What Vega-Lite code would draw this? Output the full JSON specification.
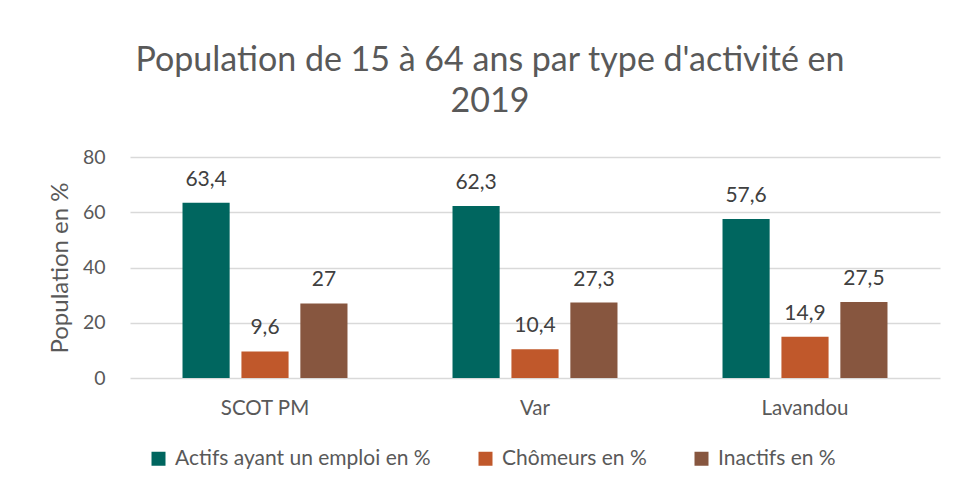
{
  "$schema": "https://vega.github.io/schema/vega-lite/v6.json",
  "width": 810,
  "height": 221,
  "autosize": {"type": "none"},
  "padding": {"left": 130, "top": 157, "right": 17, "bottom": 115},
  "background": "white",
  "config": {
    "font": "Lato",
    "view": {"stroke": null},
    "locale": {"number": {"decimal": ",", "thousands": " ", "grouping": [3], "currency": ["", " €"]}}
  },
  "title": {
    "text": ["Population de 15 à 64 ans par type d'activité en", "2019"],
    "fontSize": 34,
    "fontWeight": "normal",
    "color": "#595959",
    "anchor": "middle",
    "dx": -45,
    "offset": 28,
    "lineHeight": 41
  },
  "data": {
    "values": [
      {"zone": "SCOT PM", "type": "Actifs ayant un emploi en %", "value": 63.4},
      {"zone": "SCOT PM", "type": "Chômeurs en %", "value": 9.6},
      {"zone": "SCOT PM", "type": "Inactifs en %", "value": 27},
      {"zone": "Var", "type": "Actifs ayant un emploi en %", "value": 62.3},
      {"zone": "Var", "type": "Chômeurs en %", "value": 10.4},
      {"zone": "Var", "type": "Inactifs en %", "value": 27.3},
      {"zone": "Lavandou", "type": "Actifs ayant un emploi en %", "value": 57.6},
      {"zone": "Lavandou", "type": "Chômeurs en %", "value": 14.9},
      {"zone": "Lavandou", "type": "Inactifs en %", "value": 27.5}
    ]
  },
  "encoding": {
    "x": {
      "field": "zone", "type": "nominal", "sort": null,
      "scale": {"paddingInner": 0.389, "paddingOuter": 0.1945},
      "axis": {"title": null, "labelAngle": 0, "labelFontSize": 20.5, "labelColor": "#595959", "ticks": false, "domain": false, "labelPadding": 20}
    },
    "xOffset": {"field": "type", "type": "nominal", "sort": null, "scale": {"paddingInner": 0.2, "paddingOuter": 0}},
    "y": {
      "field": "value", "type": "quantitative",
      "scale": {"domain": [0, 80]},
      "axis": {"title": "Population en %", "titleFontSize": 24, "titleFontWeight": "normal", "titleColor": "#595959", "titlePadding": 10,
               "values": [0, 20, 40, 60, 80], "labelFontSize": 19.5, "labelColor": "#595959", "ticks": false, "domain": false,
               "gridColor": "#d9d9d9", "gridWidth": 1.5, "labelPadding": 25}
    }
  },
  "layer": [
    {
      "mark": {"type": "bar"},
      "encoding": {
        "color": {
          "field": "type", "type": "nominal", "sort": null,
          "scale": {"range": ["#00665F", "#C0582B", "#87563F"]},
          "legend": {"title": null, "orient": "none", "direction": "horizontal", "legendX": 18, "legendY": 291,
                     "symbolType": "square", "symbolSize": 196, "symbolStrokeWidth": 0, "labelFontSize": 21, "labelColor": "#595959",
                     "columnPadding": 44, "labelOffset": 6, "labelLimit": 0}
        }
      }
    },
    {
      "mark": {"type": "text", "baseline": "alphabetic", "dy": -17, "fontSize": 21, "color": "#404040"},
      "encoding": {"text": {"field": "value", "type": "quantitative", "format": ".1~f"}}
    }
  ]
}
